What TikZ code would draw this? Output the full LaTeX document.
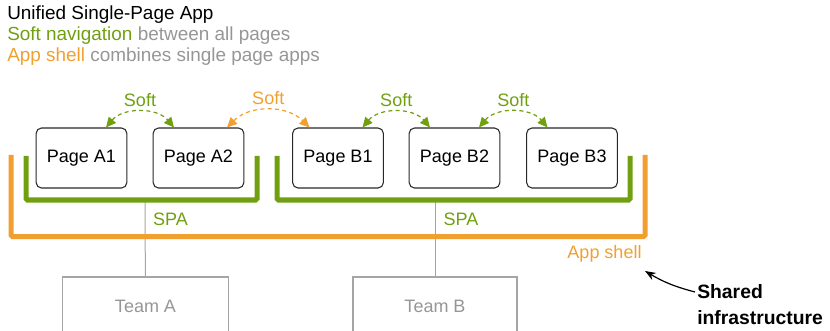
\documentclass[tikz,border=0pt]{standalone}
\usepackage{fontspec}
\setmainfont{Liberation Sans}
\usepackage{xcolor}
\usetikzlibrary{arrows.meta,calc}
\definecolor{spagreen}{RGB}{112,160,16}
\definecolor{shellorange}{RGB}{241,160,48}
\definecolor{textgray}{RGB}{150,150,150}
\definecolor{linegray}{RGB}{165,165,165}
\definecolor{pageborder}{RGB}{40,40,40}
\tikzset{
  page/.style   ={draw=pageborder, rounded corners=4pt, line width=0.8pt, minimum width=68pt, minimum height=45pt, font=\fontsize{13.5}{16}\selectfont},
  team/.style   ={draw=linegray, line width=0.9pt, minimum height=43.5pt, text=textgray, font=\fontsize{13.5}{16}\selectfont},
  soft/.style   ={{Triangle[length=7.5pt,width=7pt]}-{Triangle[length=7.5pt,width=7pt]}, dash pattern=on 3pt off 2.5pt, line width=0.9pt},
  bracket/.style={line width=3.75pt, rounded corners=1pt},
  link/.style   ={draw=linegray, line width=0.75pt},
  lbl/.style    ={font=\fontsize{13.5}{16}\selectfont, inner sep=1pt},
  head/.style   ={font=\fontsize{14.2}{17}\selectfont, inner sep=0pt, anchor=base west}
}
\begin{document}
\begin{tikzpicture}[x=0.75pt, y=-0.75pt]
  \useasboundingbox (0,0) rectangle (830,331);
  % header lines
  \node[head] (title) at (7,20) {Unified Single-Page App};
  \node[head, text=textgray] (navline) at (7,41) {\textcolor{spagreen}{Soft navigation} between all pages};
  \node[head, text=textgray] (shellline) at (7,62) {\textcolor{shellorange}{App shell} combines single page apps};
  % pages
  \node[page] (a1) at (81.5,158) {Page A1};
  \node[page] (a2) at (198.5,158) {Page A2};
  \node[page] (b1) at (338,158) {Page B1};
  \node[page] (b2) at (454.5,158) {Page B2};
  \node[page] (b3) at (572,158) {Page B3};
  % teams
  \node[team, minimum width=125pt] (teamA) at (145.5,306) {Team A};
  \node[team, minimum width=123pt] (teamB) at (435,306) {Team B};
  \coordinate (spaAfoot) at (145,200);
  \coordinate (spaBfoot) at (435,200);
  \draw[link] (teamA) -- (spaAfoot);
  \draw[link] (teamB) -- (spaBfoot);
  % brackets
  \draw[bracket, spagreen] (26,156) |- (257,200) -- (257,156);
  \draw[bracket, spagreen] (277,156) |- (630,200) -- (630,156);
  \draw[bracket, shellorange] (11,155) |- (645,236.5) -- (645,155);
  \node[lbl, text=spagreen] (spaA) at (170.5,219) {SPA};
  \node[lbl, text=spagreen] (spaB) at (461,219) {SPA};
  \node[lbl, text=shellorange] (shell) at (604.5,254) {App shell};
  % soft navigation
  \draw[soft, spagreen] ([xshift=-16pt]a1.north east) to[bend left=50] node[lbl, above=3pt, text=spagreen]{Soft} ([xshift=16pt]a2.north west);
  \draw[soft, shellorange] ([xshift=-13pt]a2.north east) to[bend left=45] node[lbl, above=3pt, text=shellorange]{Soft} ([xshift=13pt]b1.north west);
  \draw[soft, spagreen] ([xshift=-16pt]b1.north east) to[bend left=50] node[lbl, above=3pt, text=spagreen]{Soft} ([xshift=16pt]b2.north west);
  \draw[soft, spagreen] ([xshift=-16pt]b2.north east) to[bend left=50] node[lbl, above=3pt, text=spagreen]{Soft} ([xshift=16pt]b3.north west);
  % shared infrastructure
  \node[anchor=west, align=left, inner sep=0pt, font=\bfseries\fontsize{14.5}{19.5}\selectfont] (shared) at (697,305) {Shared\\infrastructure};
  \coordinate (shelltip) at (645,271);
  \draw[-{Stealth[length=8pt,width=6pt]}, line width=0.9pt] ($(shared.west)+(-2,-13)$) to[bend left=8] (shelltip);
\end{tikzpicture}
\end{document}
